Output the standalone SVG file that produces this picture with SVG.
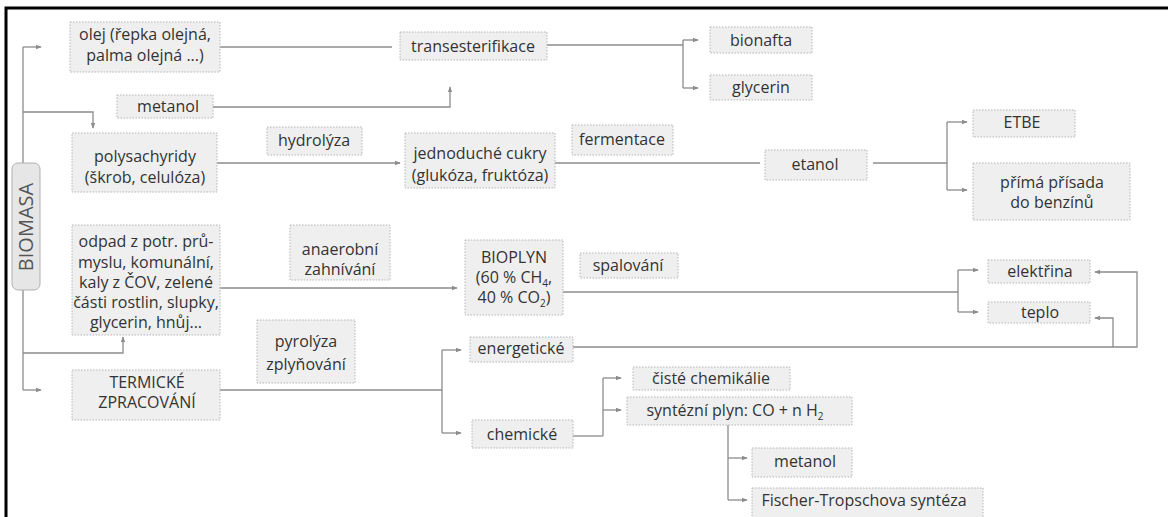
<svg xmlns="http://www.w3.org/2000/svg" width="1168" height="517" viewBox="0 0 1168 517">
<defs>
<style>
.bx{fill:#efefef;stroke:#b5b5b5;stroke-width:1;stroke-dasharray:1.5 1.5}
.t{font-family:"Open Sans","Liberation Sans",sans-serif;font-size:16px;fill:#333333;text-anchor:middle}
.c{fill:none;stroke:#8c8c8c;stroke-width:1.3}
.a{marker-end:url(#ah)}
</style>
<marker id="ah" viewBox="0 0 8 8" refX="7" refY="4" markerWidth="6" markerHeight="6" markerUnits="userSpaceOnUse" orient="auto">
<path d="M0,1 L8,4 L0,7 Z" fill="#8c8c8c"/>
</marker>
</defs>
<rect width="1168" height="517" fill="#ffffff"/>
<path d="M6,517 V8 H1168" fill="none" stroke="#000" stroke-width="3"/>

<g id="connectors">
<path class="c" d="M23,47 V390"/>
<path class="c a" d="M23,47 H41"/>
<path class="c a" d="M23,390 H41"/>
<path class="c a" d="M23,112 H93 V128"/>
<path class="c a" d="M23,353 H123 V337"/>
<path class="c" d="M220,47 H392"/>
<path class="c a" d="M213,107 H450 V87"/>
<path class="c" d="M547,45 H683"/>
<path class="c" d="M683,40 V88"/>
<path class="c a" d="M683,40 H698"/>
<path class="c a" d="M683,88 H698"/>
<path class="c a" d="M217,163 H400"/>
<path class="c" d="M555,163 H760"/>
<path class="c" d="M873,163 H947"/>
<path class="c" d="M947,122 V190"/>
<path class="c a" d="M947,122 H967"/>
<path class="c a" d="M947,190 H967"/>
<path class="c a" d="M220,288 H457"/>
<path class="c" d="M563,292 H958"/>
<path class="c" d="M958,270 V312"/>
<path class="c a" d="M958,270 H978"/>
<path class="c a" d="M958,312 H978"/>
<path class="c" d="M220,390 H442"/>
<path class="c" d="M442,350 V433"/>
<path class="c a" d="M442,350 H461"/>
<path class="c a" d="M442,433 H461"/>
<path class="c a" d="M573,347 H1137 V272 H1095"/>
<path class="c a" d="M1113,347 V318 H1095"/>
<path class="c" d="M573,436 H603"/>
<path class="c" d="M603,378 V436"/>
<path class="c a" d="M603,378 H621"/>
<path class="c a" d="M603,410 H621"/>
<path class="c" d="M728,425 V500"/>
<path class="c a" d="M728,458 H747"/>
<path class="c a" d="M728,500 H747"/>
</g>

<g id="biomasa">
<rect x="12" y="163" width="28" height="127" rx="6" fill="#e6e6e6" stroke="#b0b0b0" stroke-width="1"/>
<text class="t" transform="translate(33,227) rotate(-90)" style="font-size:20px;fill:#555">BIOMASA</text>
</g>
<g id="olej"><rect class="bx" x="70" y="22" width="150" height="50"/>
<text class="t" x="145" y="40">olej (řepka olejná,</text><text class="t" x="145" y="61">palma olejná ...)</text></g>
<g id="metanol1"><rect class="bx" x="117" y="95" width="96" height="23"/>
<text class="t" x="168" y="112">metanol</text></g>
<g id="polysachyridy"><rect class="bx" x="72" y="133" width="145" height="59"/>
<text class="t" x="145" y="162">polysachyridy</text><text class="t" x="145" y="183">(škrob, celulóza)</text></g>
<g id="hydrolyza"><rect class="bx" x="267" y="127" width="95" height="28"/>
<text class="t" x="314" y="146">hydrolýza</text></g>
<g id="transesterifikace"><rect class="bx" x="400" y="32" width="147" height="28"/>
<text class="t" x="473" y="52">transesterifikace</text></g>
<g id="bionafta"><rect class="bx" x="710" y="27" width="102" height="26"/>
<text class="t" x="761" y="46">bionafta</text></g>
<g id="glycerin"><rect class="bx" x="710" y="75" width="102" height="25"/>
<text class="t" x="761" y="93">glycerin</text></g>
<g id="cukry"><rect class="bx" x="405" y="133" width="150" height="55"/>
<text class="t" x="480" y="159">jednoduché cukry</text><text class="t" x="480" y="181">(glukóza, fruktóza)</text></g>
<g id="fermentace"><rect class="bx" x="572" y="125" width="101" height="30"/>
<text class="t" x="622" y="145">fermentace</text></g>
<g id="etanol"><rect class="bx" x="765" y="150" width="102" height="30"/>
<text class="t" x="815" y="170">etanol</text></g>
<g id="etbe"><rect class="bx" x="973" y="110" width="102" height="27"/>
<text class="t" x="1022" y="128">ETBE</text></g>
<g id="prisada"><rect class="bx" x="973" y="163" width="157" height="57"/>
<text class="t" x="1052" y="188">přímá přísada</text><text class="t" x="1052" y="208">do benzínů</text></g>
<g id="odpad"><rect class="bx" x="72" y="225" width="148" height="110"/>
<text class="t" x="146" y="247">odpad z potr. prů-</text>
<text class="t" x="146" y="268">myslu, komunální,</text>
<text class="t" x="146" y="288">kaly z ČOV, zelené</text>
<text class="t" x="146" y="308">části rostlin, slupky,</text>
<text class="t" x="146" y="328">glycerin, hnůj...</text></g>
<g id="anaerobni"><rect class="bx" x="290" y="225" width="100" height="55"/>
<text class="t" x="340" y="255">anaerobní</text><text class="t" x="340" y="275">zahnívání</text></g>
<g id="bioplyn"><rect class="bx" x="465" y="240" width="98" height="75"/>
<text class="t" x="514" y="263">BIOPLYN</text>
<text class="t" x="514" y="283">(60 % CH<tspan font-size="10" dy="4">4</tspan><tspan dy="-4">,</tspan></text>
<text class="t" x="514" y="303">40 % CO<tspan font-size="10" dy="4">2</tspan><tspan dy="-4">)</tspan></text></g>
<g id="spalovani"><rect class="bx" x="580" y="253" width="98" height="25"/>
<text class="t" x="628" y="271">spalování</text></g>
<g id="elektrina"><rect class="bx" x="988" y="260" width="102" height="23"/>
<text class="t" x="1040" y="277">elektřina</text></g>
<g id="teplo"><rect class="bx" x="988" y="302" width="102" height="21"/>
<text class="t" x="1040" y="318">teplo</text></g>
<g id="pyrolyza"><rect class="bx" x="257" y="320" width="98" height="63"/>
<text class="t" x="306" y="347">pyrolýza</text><text class="t" x="306" y="370">zplyňování</text></g>
<g id="termicke"><rect class="bx" x="72" y="370" width="148" height="50"/>
<text class="t" x="147" y="388">TERMICKÉ</text><text class="t" x="147" y="408">ZPRACOVÁNÍ</text></g>
<g id="energeticke"><rect class="bx" x="470" y="337" width="103" height="25"/>
<text class="t" x="521" y="354">energetické</text></g>
<g id="chemicke"><rect class="bx" x="472" y="420" width="101" height="28"/>
<text class="t" x="522" y="440">chemické</text></g>
<g id="ciste"><rect class="bx" x="633" y="367" width="157" height="23"/>
<text class="t" x="711" y="384">čisté chemikálie</text></g>
<g id="syntezni"><rect class="bx" x="627" y="397" width="225" height="28"/>
<text class="t" x="735" y="416">syntézní plyn: CO + n H<tspan font-size="10" dy="4">2</tspan></text></g>
<g id="metanol2"><rect class="bx" x="752" y="448" width="100" height="29"/>
<text class="t" x="805" y="467">metanol</text></g>
<g id="fischer"><rect class="bx" x="752" y="488" width="231" height="32"/>
<text class="t" x="864" y="506">Fischer-Tropschova syntéza</text></g>
</svg>
